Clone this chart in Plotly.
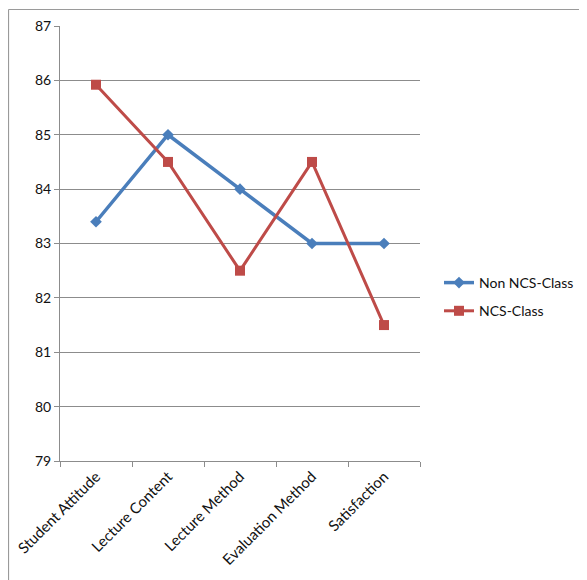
import plotly.graph_objects as go

categories = ["Student Attitude", "Lecture Content", "Lecture Method", "Evaluation Method", "Satisfaction"]
non_ncs = [83.4, 85.0, 84.0, 83.0, 83.0]
ncs = [85.92, 84.5, 82.5, 84.5, 81.5]
y_ticks = [79, 80, 81, 82, 83, 84, 85, 86, 87]

# page has an 8px body margin; work in page pixels and convert
OFF = 8
W, H = 587 - OFF, 580 - OFF
L, R, T, B = 60 - OFF, 420 - OFF, 26 - OFF, 461 - OFF

fig = go.Figure()
fig.add_trace(go.Scatter(x=categories, y=non_ncs, name="Non NCS-Class", mode="lines+markers",
                         legendgroup="a",
                         line=dict(color="#4A7EBB", width=3.5),
                         marker=dict(symbol="diamond", size=9, color="#4A7EBB")))
fig.add_trace(go.Scatter(x=categories, y=ncs, name="NCS-Class", mode="lines+markers",
                         legendgroup="b",
                         line=dict(color="#BE4B48", width=3),
                         marker=dict(symbol="square", size=10, color="#BE4B48")))

def px_x(page_px):
    return (page_px - OFF - L) / (R - L)

def px_y(page_py):
    return (B - (page_py - OFF)) / (B - T)

# outer chart border (top and left edges visible)
fig.add_shape(type="line", xref="paper", yref="paper", x0=px_x(8.5), x1=px_x(600), y0=px_y(9.5), y1=px_y(9.5),
              line=dict(color="#9a9a9a", width=1.2))
fig.add_shape(type="line", xref="paper", yref="paper", x0=px_x(8.5), x1=px_x(8.5), y0=px_y(9.5), y1=px_y(600),
              line=dict(color="#9a9a9a", width=1.2))

fig.update_layout(
    width=W, height=H,
    margin=dict(l=L, r=W - R, t=T, b=H - B, autoexpand=False),
    paper_bgcolor="white", plot_bgcolor="white",
    font=dict(family="Lato, Open Sans, sans-serif", size=14, color="#111"),
    showlegend=True,
    legend=dict(x=px_x(439), y=px_y(297), xanchor="left", yanchor="middle",
                font=dict(size=14, color="#111"), traceorder="grouped", tracegroupgap=7,
                bgcolor="rgba(0,0,0,0)"),
)
fig.update_xaxes(type="category", range=[-0.5, 4.5], showgrid=False, showline=True, automargin=False,
                 linecolor="#8c8c8c", linewidth=1, ticks="outside", tickson="boundaries",
                 ticklen=5, tickcolor="#8c8c8c", tickangle=-45, tickfont=dict(size=15, color="#111"))
fig.update_yaxes(range=[79, 87], tickvals=y_ticks, showgrid=True, gridcolor="#8c8c8c", gridwidth=1,
                 showline=True, linecolor="#8c8c8c", linewidth=1, ticks="outside", ticklen=5,
                 automargin=False, tickcolor="#8c8c8c", zeroline=False,
                 tickfont=dict(size=14, color="#111"))

fig.write_html("out.html")
